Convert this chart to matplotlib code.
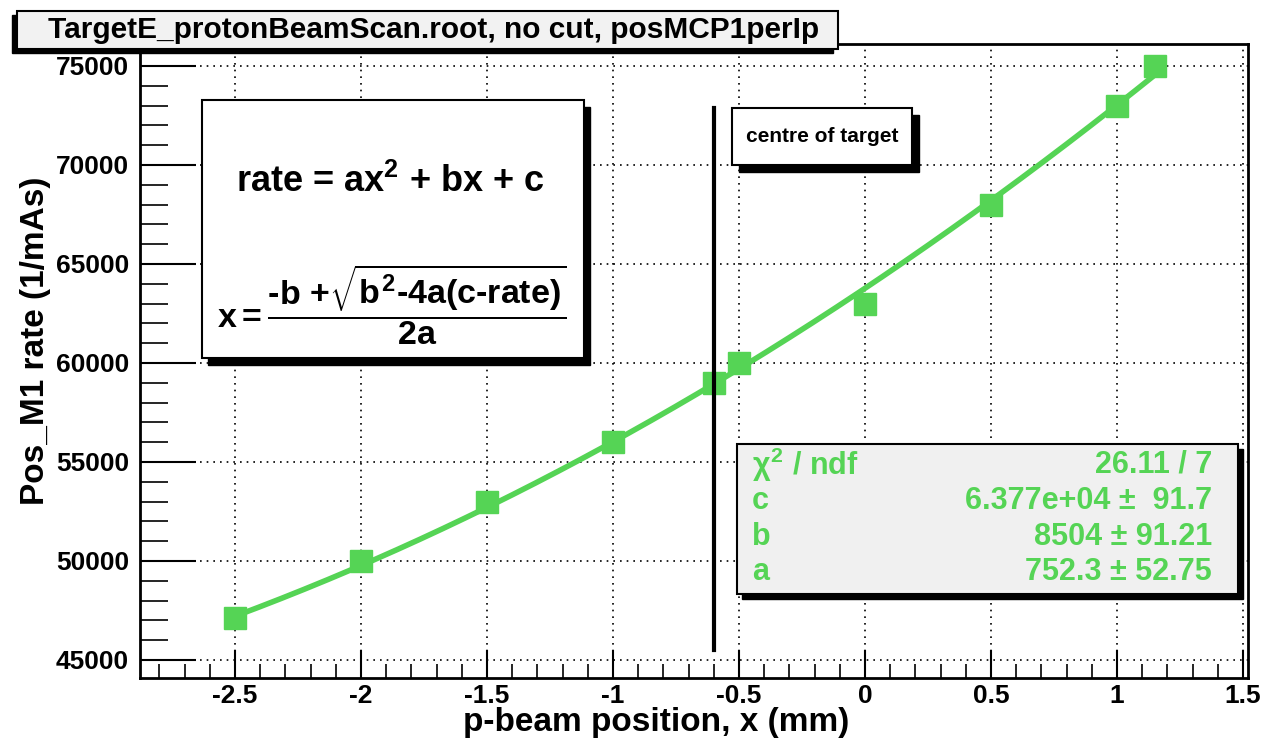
import numpy as np
import matplotlib.pyplot as plt
from matplotlib.patches import Rectangle
from matplotlib.ticker import MultipleLocator

plt.rcParams['font.family'] = ['Liberation Sans', 'DejaVu Sans']
plt.rcParams['font.weight'] = 'bold'
plt.rcParams['mathtext.fontset'] = 'custom'
plt.rcParams['mathtext.rm'] = 'Liberation Sans:bold'
plt.rcParams['mathtext.it'] = 'Liberation Sans:bold'
plt.rcParams['mathtext.bf'] = 'Liberation Sans:bold'

# scan points
pos_mm = [-2.5, -2.0, -1.5, -1.0, -0.6, -0.5, 0.0, 0.5, 1.0, 1.15]
rate = [47100, 50000, 53000, 56000, 59000, 60000, 63000, 68000, 73000, 75000]

# fit result (pol2) as shown in stats box
fit_a, fit_b, fit_c = 752.3, 8504, 6.377e4
stat_names = [r'$\chi^{2}$ / ndf', 'c', 'b', 'a']
stat_vals = ['26.11 / 7', '6.377e+04 \u00b1  91.7', '8504 \u00b1 91.21', '752.3 \u00b1 52.75']

target_x = -0.6
green = '#55d455'

W, H = 1263, 743
fig = plt.figure(figsize=(W / 100, H / 100), dpi=100)
ax = fig.add_axes([140 / W, 1 - 678 / H, (1248 - 140) / W, (678 - 44) / H])

xf = np.linspace(min(pos_mm), max(pos_mm), 200)
ax.plot(xf, fit_a * xf**2 + fit_b * xf + fit_c, color=green, lw=4, zorder=3)
ax.plot(pos_mm, rate, ls='none', marker='s', ms=16, color=green, zorder=4)
ax.plot([target_x, target_x], [45500, 72900], color='black', lw=3, zorder=5)

ax.set_xlim(-2.877, 1.52)
ax.set_ylim(44090, 76110)
ax.xaxis.set_major_locator(MultipleLocator(0.5))
ax.xaxis.set_minor_locator(MultipleLocator(0.1))
ax.yaxis.set_major_locator(MultipleLocator(5000))
ax.yaxis.set_minor_locator(MultipleLocator(1000))
ax.tick_params(axis='x', which='major', direction='in', length=20, width=1.5, labelsize=19, pad=4)
ax.tick_params(axis='x', which='minor', direction='in', length=10, width=1.2)
ax.tick_params(axis='y', which='major', direction='in', length=40, width=1.5, labelsize=19, pad=8)
ax.tick_params(axis='y', which='minor', direction='in', length=20, width=1.2)
ax.xaxis.set_major_formatter(plt.FuncFormatter(lambda v, p: f'{v:g}'))
ax.grid(True, which='major', color='black', ls=(0, (1, 3)), lw=1.2)
for s in ax.spines.values():
    s.set_linewidth(2)

fig.text(849 / W, 1 - 723 / H, 'p-beam position, x (mm)', ha='right', va='center', fontsize=24)
fig.text(36 / W, 1 - 341 / H, 'Pos_M1 rate (1/mAs)', rotation=90, ha='center', va='center', fontsize=24)


def box(x0, y0, x1, y1, fill, dx, dy, zorder=10):
    # pixel coordinates from top-left, ROOT-style shadow
    sh = Rectangle(((x0 + dx) / W, 1 - (y1 + dy) / H), (x1 - x0) / W, (y1 - y0) / H,
                   transform=fig.transFigure, facecolor='black', edgecolor='black', zorder=zorder)
    bx = Rectangle((x0 / W, 1 - y1 / H), (x1 - x0) / W, (y1 - y0) / H,
                   transform=fig.transFigure, facecolor=fill, edgecolor='black', lw=1.5, zorder=zorder + 1)
    fig.patches.extend([sh, bx])


# title
box(17, 11, 838, 49, '#f2f2f2', -5, 4)
fig.text(434 / W, 1 - 30 / H, 'TargetE_protonBeamScan.root, no cut, posMCP1perIp',
         ha='center', va='center', fontsize=21.5, zorder=20)

# formula box
box(202, 100, 584, 358, 'white', 6, 7)
fig.text(390 / W, 1 - 182 / H, r'rate = ax$^{2}$ + bx + c', ha='center', va='center', fontsize=26, zorder=20)
fig.text(392 / W, 1 - 305 / H,
         r'$x = \dfrac{\text{-b +}\sqrt{b^{2}\text{-4a(c-rate)}}}{2a}$',
         ha='center', va='center', fontsize=24.5, zorder=20)

# centre of target label
box(732, 108, 912, 165, 'white', 7, 7)
fig.text(822 / W, 1 - 137 / H, 'centre of target', ha='center', va='center', fontsize=15, zorder=20)

# stats box
box(737, 444, 1238, 594, '#f0f0f0', 5, 5)
rows_y = [465, 501, 537, 572]
for nm, val, yy in zip(stat_names, stat_vals, rows_y):
    fig.text(752 / W, 1 - yy / H, nm, ha='left', va='center', fontsize=22, color=green, zorder=20)
    fig.text(1212 / W, 1 - yy / H, val, ha='right', va='center', fontsize=22, color=green, zorder=20)

fig.savefig('out.png', dpi=100)
